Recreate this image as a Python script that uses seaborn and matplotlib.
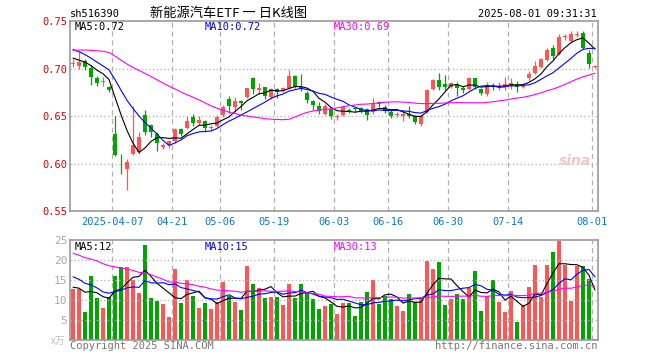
import numpy as np
import pandas as pd
import matplotlib
matplotlib.use('Agg')
import matplotlib.pyplot as plt
import seaborn as sns

# daily candles, 2025-03-26 .. 2025-08-01 (88 trading days)
open_ = [0.705, 0.703, 0.708, 0.701, 0.690, 0.686, 0.681, 0.631, 0.600, 0.594,
         0.610, 0.612, 0.651, 0.641, 0.631, 0.617, 0.620, 0.624, 0.636, 0.637,
         0.649, 0.643, 0.645, 0.637, 0.640, 0.651, 0.668, 0.659, 0.666, 0.670,
         0.690, 0.677, 0.680, 0.670, 0.678, 0.676, 0.679, 0.692, 0.681, 0.674,
         0.666, 0.661, 0.652, 0.657, 0.649, 0.651, 0.656, 0.658, 0.658, 0.657,
         0.654, 0.665, 0.660, 0.654, 0.651, 0.650, 0.652, 0.650, 0.642, 0.654,
         0.678, 0.688, 0.684, 0.681, 0.684, 0.679, 0.678, 0.690, 0.678, 0.673,
         0.682, 0.681, 0.681, 0.682, 0.684, 0.681, 0.690, 0.695, 0.702, 0.709,
         0.722, 0.715, 0.733, 0.729, 0.735, 0.737, 0.716, 0.702]
high = [0.710, 0.717, 0.710, 0.704, 0.692, 0.691, 0.682, 0.650, 0.610, 0.605,
        0.661, 0.633, 0.656, 0.642, 0.633, 0.622, 0.625, 0.637, 0.637, 0.650,
        0.652, 0.650, 0.646, 0.641, 0.651, 0.662, 0.671, 0.670, 0.667, 0.680,
        0.691, 0.685, 0.681, 0.679, 0.679, 0.681, 0.698, 0.693, 0.694, 0.676,
        0.667, 0.665, 0.663, 0.659, 0.652, 0.661, 0.658, 0.660, 0.660, 0.658,
        0.669, 0.666, 0.662, 0.656, 0.654, 0.656, 0.661, 0.651, 0.651, 0.678,
        0.689, 0.695, 0.693, 0.686, 0.686, 0.682, 0.691, 0.690, 0.680, 0.686,
        0.685, 0.686, 0.691, 0.690, 0.687, 0.685, 0.697, 0.708, 0.711, 0.722,
        0.725, 0.736, 0.736, 0.739, 0.739, 0.740, 0.719, 0.704]
low = [0.702, 0.700, 0.698, 0.683, 0.682, 0.682, 0.675, 0.608, 0.589, 0.572,
       0.609, 0.610, 0.630, 0.628, 0.613, 0.615, 0.616, 0.622, 0.629, 0.636,
       0.640, 0.641, 0.633, 0.635, 0.638, 0.649, 0.653, 0.654, 0.656, 0.669,
       0.673, 0.673, 0.668, 0.668, 0.669, 0.675, 0.678, 0.679, 0.676, 0.664,
       0.656, 0.652, 0.651, 0.647, 0.646, 0.650, 0.653, 0.654, 0.653, 0.646,
       0.652, 0.660, 0.653, 0.648, 0.649, 0.645, 0.648, 0.642, 0.639, 0.653,
       0.677, 0.677, 0.677, 0.679, 0.671, 0.674, 0.677, 0.678, 0.672, 0.671,
       0.677, 0.677, 0.677, 0.678, 0.675, 0.679, 0.687, 0.694, 0.701, 0.708,
       0.710, 0.714, 0.730, 0.728, 0.733, 0.721, 0.701, 0.701]
close = [0.706, 0.707, 0.702, 0.691, 0.685, 0.687, 0.677, 0.609, 0.599, 0.602,
         0.620, 0.628, 0.633, 0.633, 0.622, 0.620, 0.624, 0.636, 0.631, 0.645,
         0.643, 0.646, 0.637, 0.638, 0.649, 0.660, 0.661, 0.666, 0.664, 0.679,
         0.678, 0.680, 0.671, 0.678, 0.675, 0.679, 0.692, 0.681, 0.678, 0.667,
         0.662, 0.655, 0.661, 0.650, 0.650, 0.659, 0.654, 0.657, 0.655, 0.651,
         0.664, 0.663, 0.655, 0.650, 0.652, 0.652, 0.650, 0.644, 0.650, 0.677,
         0.688, 0.681, 0.681, 0.685, 0.680, 0.677, 0.690, 0.681, 0.674, 0.683,
         0.681, 0.682, 0.684, 0.685, 0.681, 0.683, 0.694, 0.703, 0.710, 0.720,
         0.713, 0.733, 0.734, 0.736, 0.736, 0.722, 0.705, 0.703]
# volume in 万手
volume = [12.8, 12.8, 6.9, 16.0, 10.5, 8.0, 10.8, 16.0, 18.3, 18.3,
          15.0, 11.8, 23.8, 10.5, 9.8, 9.0, 5.8, 17.8, 9.3, 15.0,
          11.0, 8.0, 9.3, 7.8, 9.5, 14.5, 11.0, 9.5, 7.5, 18.5,
          14.0, 13.0, 10.5, 10.8, 10.8, 8.8, 14.0, 10.5, 14.0, 12.0,
          10.3, 7.8, 8.5, 9.0, 6.5, 9.3, 9.3, 6.0, 9.5, 12.0,
          15.0, 9.0, 11.0, 10.3, 8.5, 7.3, 11.5, 9.5, 10.5, 19.8,
          17.8, 19.5, 8.8, 10.3, 11.5, 10.3, 13.0, 17.3, 7.3, 11.0,
          15.0, 9.5, 7.0, 12.3, 4.5, 8.8, 13.3, 18.8, 10.8, 18.8,
          22.1, 24.8, 18.8, 9.8, 18.6, 18.6, 15.2, 0.3]

# days before the visible window, only used so the moving averages start right
warmup_close = [0.700, 0.698, 0.702, 0.700, 0.699, 0.718, 0.722, 0.726, 0.728, 0.725,
                0.723, 0.727, 0.730, 0.726, 0.724, 0.722, 0.725, 0.728, 0.727, 0.724,
                0.730, 0.733, 0.728, 0.727, 0.727, 0.718, 0.712, 0.710, 0.709]
warmup_volume = [28, 25, 27, 24, 29, 26, 25, 26, 27, 25,
                 26, 28, 24, 27, 26, 25.75, 19, 18, 20, 17.25,
                 19, 17, 20, 18, 18, 14, 12, 15, 12.2]

tick_pos = [7, 17, 25, 34, 44, 53, 63, 73, 87]
tick_labels = ['2025-04-07', '04-21', '05-06', '05-19', '06-03',
               '06-16', '06-30', '07-14', '08-01']

RED = '#ff5555'
GREEN = '#00a600'
GRID = '#b0b0b0'

df = pd.DataFrame({'open': open_, 'high': high, 'low': low,
                   'close': close, 'volume': volume})
df['idx'] = np.arange(len(df))
df['dir'] = np.where(df['close'] >= df['open'], 'up', 'down')
nw = len(warmup_close)
all_c = pd.Series(warmup_close + close)
all_v = pd.Series(warmup_volume + volume)
for w in (5, 10, 30):
    df[f'ma{w}'] = all_c.rolling(w).mean().iloc[nw:].values
    df[f'vma{w}'] = all_v.rolling(w).mean().iloc[nw:].values

sns.set_theme(style='white')
plt.rcParams['font.family'] = ['DejaVu Sans Mono', 'Noto Sans CJK SC']

W, H = 660, 360
fig = plt.figure(figsize=(6.6, 3.6), dpi=100)
fig.patch.set_facecolor('white')
ax = fig.add_axes([70 / W, 1 - 211 / H, 528 / W, 190 / H])
axv = fig.add_axes([70 / W, 1 - 340 / H, 528 / W, 100 / H])

# candles
colors = np.where(df['dir'] == 'up', RED, GREEN)
ax.vlines(df['idx'], df['low'], df['high'], colors=colors, lw=0.9, zorder=3)
body_bottom = np.minimum(df['open'], df['close'])
body_h = np.maximum((df['close'] - df['open']).abs(), 0.0009)
ax.bar(df['idx'], body_h, bottom=body_bottom, width=0.74, color=colors,
       linewidth=0, zorder=4)
sns.lineplot(data=df, x='idx', y='ma5', color='black', lw=0.8, ax=ax, zorder=5)
sns.lineplot(data=df, x='idx', y='ma10', color='#0000ff', lw=0.8, ax=ax, zorder=5)
sns.lineplot(data=df, x='idx', y='ma30', color='#ff00ff', lw=0.8, ax=ax, zorder=5)

# volume
sns.barplot(data=df, x='idx', y='volume', hue='dir', palette={'up': RED, 'down': GREEN},
            dodge=False, width=0.82, saturation=1, linewidth=0, legend=False, ax=axv)
sns.lineplot(data=df, x='idx', y='vma5', color='black', lw=0.8, ax=axv, zorder=5)
sns.lineplot(data=df, x='idx', y='vma10', color='#0000ff', lw=0.8, ax=axv, zorder=5)
sns.lineplot(data=df, x='idx', y='vma30', color='#ff00ff', lw=0.8, ax=axv, zorder=5)

for a in (ax, axv):
    a.set_xlim(-0.5, len(df) - 0.5)
    a.set_xlabel('')
    a.set_ylabel('')
    a.set_facecolor('white')
    for s in a.spines.values():
        s.set_color('#999999')
        s.set_linewidth(1.2)
    for t in tick_pos:
        a.axvline(t - 0.5, color=GRID, ls=(0, (4, 3)), lw=0.9, zorder=1)
    a.tick_params(length=0)

ax.set_ylim(0.55, 0.75)
for y in (0.60, 0.65, 0.70):
    ax.axhline(y, color=GRID, ls=(0, (1, 2)), lw=0.9, zorder=1)
ax.set_yticks([0.55, 0.60, 0.65, 0.70, 0.75])
ax.set_yticklabels([f'{v:.2f}' for v in [0.55, 0.60, 0.65, 0.70, 0.75]],
                   color='#e00000', fontsize=7.5)
ax.set_xticks([t - 0.5 for t in tick_pos])
ax.set_xticklabels(tick_labels, color='#0a7ad0', fontsize=7.5)
ax.tick_params(axis='x', pad=4.5)
ax.tick_params(axis='y', pad=2)

axv.set_ylim(0, 25)
for y in (5, 10, 15, 20):
    axv.axhline(y, color=GRID, ls=(0, (1, 2)), lw=0.9, zorder=1)
axv.set_yticks([5, 10, 15, 20, 25])
axv.set_yticklabels(['5', '10', '15', '20', '25'], color='#aaaaaa', fontsize=8)
axv.tick_params(axis='y', pad=2)
axv.set_xticks([])

# texts
def ftext(x, y, s, **kw):
    fig.text(x / W, 1 - y / H, s, va='center', **kw)

ftext(70, 14, 'sh516390', fontsize=7.5, color='black')
ftext(229, 14, '新能源汽车ETF 一 日K线图', fontsize=9.5, ha='center', color='black',
      family=['Noto Sans CJK SC', 'DejaVu Sans'])
ftext(597, 14, '2025-08-01 09:31:31', fontsize=7.5, ha='right', color='black')

ftext(75, 27, 'MA5:0.72', fontsize=7.5, color='black')
ftext(205, 27, 'MA10:0.72', fontsize=7.5, color='#0000ff')
ftext(334, 27, 'MA30:0.69', fontsize=7.5, color='#ff00ff')
ftext(75, 247, 'MA5:12', fontsize=7.5, color='black')
ftext(205, 247, 'MA10:15', fontsize=7.5, color='#0000ff')
ftext(334, 247, 'MA30:13', fontsize=7.5, color='#ff00ff')

ftext(65, 341, 'x万', fontsize=7, ha='right', color='#bbbbbb',
      family=['Noto Sans CJK SC', 'DejaVu Sans'])
ftext(70, 346, 'Copyright 2025 SINA.COM', fontsize=7.5, color='#777777')
ftext(597, 346, 'http://finance.sina.com.cn', fontsize=7.5, ha='right', color='#777777')
ftext(575, 161, 'sina', fontsize=10, ha='center', color='#f0c8c8',
      style='italic', weight='bold', family='DejaVu Sans')

fig.savefig('out.png', dpi=100, facecolor='white')
